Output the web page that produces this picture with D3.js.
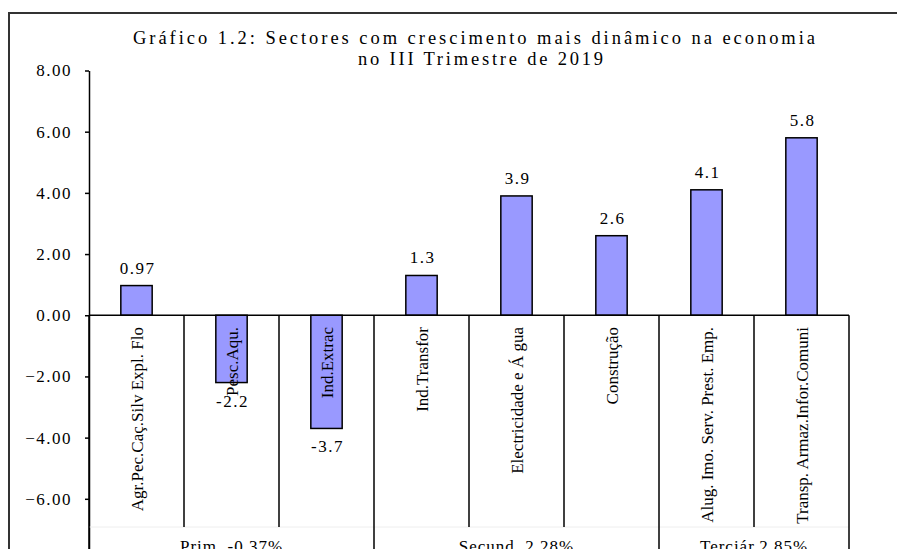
<!DOCTYPE html>
<html>
<head>
<meta charset="utf-8">
<script src="https://cdn.jsdelivr.net/npm/d3@7"></script>
<style>
    body { margin: 0; background: #fff; }
</style>
</head>
<body>
<div id="chart"></div>
<script>
"use strict";
var categories = ["Agr.Pec.Caç.Silv Expl. Flo", "Pesc.Aqu.", "Ind.Extrac", "Ind.Transfor",
    "Electricidade e Á gua", "Construção", "Alug. Imo. Serv. Prest. Emp.", "Transp. Armaz.Infor.Comuni"];
var values = [0.97, -2.2, -3.7, 1.3, 3.9, 2.6, 4.1, 5.8];
var valueLabels = ["0.97", "-2.2", "-3.7", "1.3", "3.9", "2.6", "4.1", "5.8"];
var groups = ["Prim. -0.37%", "Secund. 2.28%", "Terciár.2.85%"];
var groupStarts = [0, 3, 6];
var groupEnds = [3, 6, 8];
var yTicks = [-6, -4, -2, 0, 2, 4, 6, 8];
var titleLines = ["Gráfico  1.2: Sectores com crescimento mais  dinâmico  na economia", "no III Trimestre  de 2019"];

var FONT = "'Liberation Serif', 'Times New Roman', Times, serif";
var width = 897, height = 549;
var plot = {left: 89, right: 849, top: 70.5, bottom: 560};
var minorBottom = 527;

var svg = d3.select("#chart").append("svg")
    .attr("width", width)
    .attr("height", height);

svg.append("rect")
    .attr("width", width).attr("height", height)
    .attr("fill", "#fff");

// outer frame (only top and left visible)
svg.append("path")
    .attr("d", "M9,600 V13 H900")
    .attr("fill", "none")
    .attr("stroke", "#333")
    .attr("stroke-width", 2);

var x = d3.scaleBand()
    .domain(d3.range(categories.length))
    .range([plot.left, plot.right])
    .paddingInner(0).paddingOuter(0);

var y = d3.scaleLinear()
    .domain([-8, 8])
    .range([plot.bottom, plot.top]);

var barW = x.bandwidth() * 0.33;

function serif(sel, size) {
    return sel.style("font-family", FONT).style("font-size", size + "px").attr("fill", "#000");
}

// title
var title = svg.append("g").attr("class", "title");
serif(title.append("text"), 18.5)
    .attr("x", 133).attr("y", 43.5)
    .attr("textLength", 682).attr("lengthAdjust", "spacing")
    .text(titleLines[0]);
serif(title.append("text"), 18.5)
    .attr("x", 358).attr("y", 64.5)
    .attr("textLength", 245).attr("lengthAdjust", "spacing")
    .text(titleLines[1]);

// y axis
var yAxis = d3.axisLeft(y)
    .tickValues(yTicks)
    .tickFormat(d3.format(".2f"))
    .tickSize(4)
    .tickSizeOuter(0)
    .tickPadding(13);

var yg = svg.append("g")
    .attr("transform", "translate(" + plot.left + ",0)")
    .call(yAxis);
yg.attr("font-family", null).attr("font-size", null);
yg.select(".domain").attr("stroke", "#000").attr("stroke-width", 1.5);
yg.selectAll(".tick line").attr("stroke", "#000").attr("stroke-width", 1.5);
serif(yg.selectAll(".tick text"), 17)
    .style("letter-spacing", "1.5px");

// faint line under the category area
svg.append("line")
    .attr("x1", plot.left).attr("x2", plot.right)
    .attr("y1", minorBottom).attr("y2", minorBottom)
    .attr("stroke", "#eee").attr("stroke-width", 1);

// bars
svg.append("g").selectAll("rect")
    .data(values)
    .enter().append("rect")
    .attr("x", function (d, i) { return x(i) + (x.bandwidth() - barW) / 2; })
    .attr("y", function (d) { return y(Math.max(0, d)); })
    .attr("width", barW)
    .attr("height", function (d) { return Math.abs(y(d) - y(0)); })
    .attr("fill", "#9999FF")
    .attr("stroke", "#000")
    .attr("stroke-width", 1.5);

// category axis line
svg.append("line")
    .attr("x1", plot.left).attr("x2", plot.right)
    .attr("y1", y(0)).attr("y2", y(0))
    .attr("stroke", "#000").attr("stroke-width", 1.5);

// dividers between categories, longer ones between groups
var bounds = d3.range(categories.length + 1);
svg.append("g").selectAll("line")
    .data(bounds)
    .enter().append("line")
    .attr("x1", function (d) { return plot.left + d * x.bandwidth(); })
    .attr("x2", function (d) { return plot.left + d * x.bandwidth(); })
    .attr("y1", y(0))
    .attr("y2", function (d) {
        return (groupStarts.indexOf(d) >= 0 || d === categories.length) ? height + 10 : minorBottom;
    })
    .attr("stroke", "#000").attr("stroke-width", 1.5);

// value labels
serif(svg.append("g").selectAll("text")
    .data(values)
    .enter().append("text"), 17)
    .attr("x", function (d, i) { return x(i) + x.bandwidth() / 2 + 1; })
    .attr("y", function (d) { return d >= 0 ? y(d) - 12 : y(d) + 24; })
    .attr("text-anchor", "middle")
    .style("letter-spacing", "1.5px")
    .text(function (d, i) { return valueLabels[i]; });

// category labels (rotated)
serif(svg.append("g").selectAll("text")
    .data(categories)
    .enter().append("text"), 17)
    .attr("transform", function (d, i) {
        return "translate(" + (x(i) + x.bandwidth() / 2) + "," + 327 + ") rotate(-90)";
    })
    .attr("text-anchor", "end")
    .attr("dy", "0.38em")
    .text(function (d) { return d; });

// group labels (cut by the lower edge, as in the source picture)
serif(svg.append("g").selectAll("text")
    .data(groups)
    .enter().append("text"), 17)
    .attr("x", function (d, i) {
        return plot.left + (groupStarts[i] + groupEnds[i]) / 2 * x.bandwidth();
    })
    .attr("y", 552)
    .attr("text-anchor", "middle")
    .style("letter-spacing", "1px")
    .text(function (d) { return d; });
</script>
</body>
</html>
